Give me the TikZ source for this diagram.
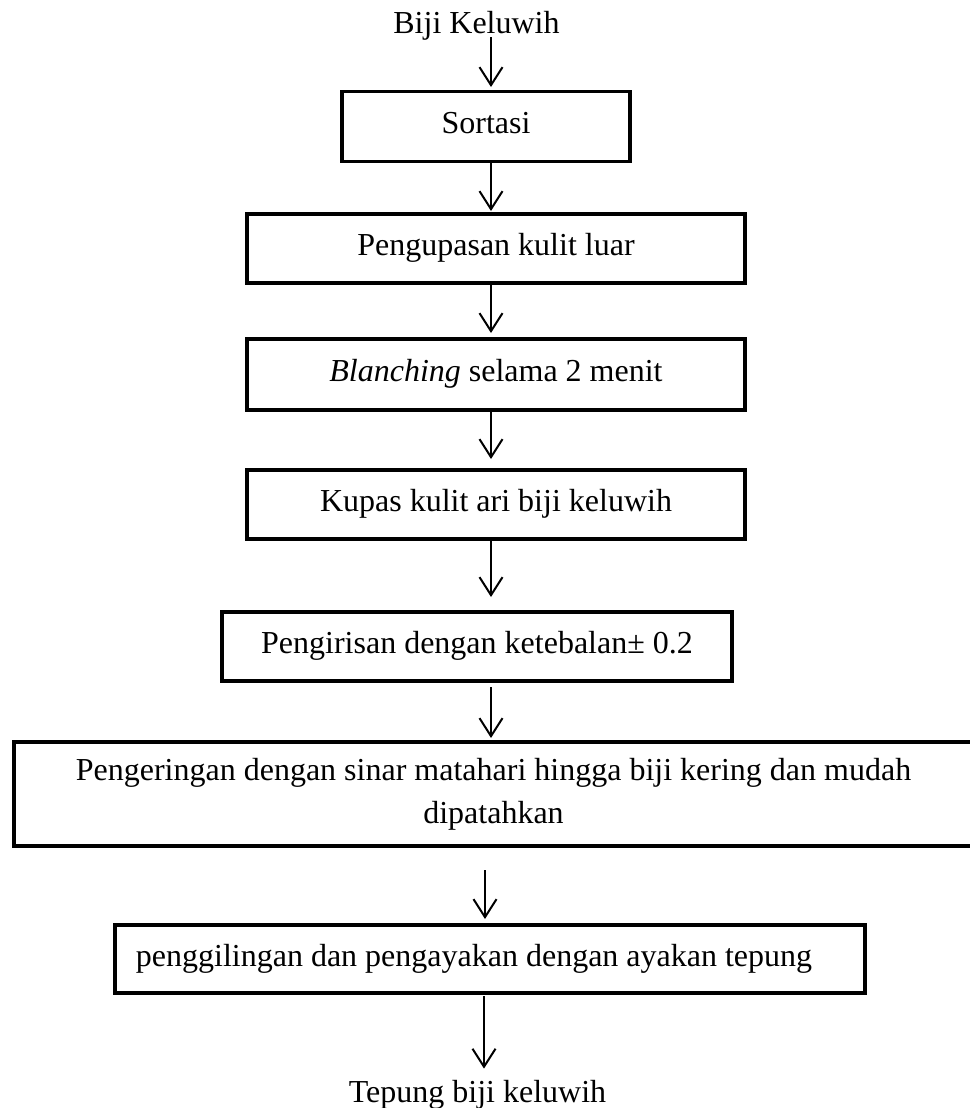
\documentclass[tikz,border=0pt]{standalone}
\usepackage{fontspec}
\setmainfont{Liberation Serif}
\usetikzlibrary{arrows.meta}
\begin{document}
\begin{tikzpicture}[x=1pt,y=-1pt,
  txt/.style={font=\fontsize{32}{43}\selectfont},
  box/.style={txt, draw, line width=3.2pt, inner sep=0pt, outer sep=0pt,
    text height=22pt, text depth=8pt},
  lbl/.style={txt, inner sep=0pt, anchor=base},
  arr/.style={line width=2pt, -{Straight Barb[length=18pt,width=23pt]}}]
\useasboundingbox (0,0) rectangle (969,1108);
\coordinate (ax) at (491,0);
\coordinate (bx) at (485,0);
\coordinate (cx) at (484,0);

\node[lbl] (biji) at (476.5,34) {Biji Keluwih};
\node[box, minimum width=288pt, minimum height=70pt] (sortasi) at (486,126.5) {Sortasi};
\node[box, minimum width=498pt, minimum height=69pt] (kulit) at (496,248.5) {Pengupasan kulit luar};
\node[box, minimum width=498pt, minimum height=71pt] (blanch) at (496,374.5) {\textit{Blanching} selama 2 menit};
\node[box, minimum width=498pt, minimum height=69pt] (kupas) at (496,504.5) {Kupas kulit ari biji keluwih};
\node[box, minimum width=510pt, minimum height=69pt] (iris) at (477,646.5) {Pengirisan dengan ketebalan± 0.2};
\node[txt, draw, line width=3.2pt, inner sep=0pt, outer sep=0pt, align=center,
  minimum width=959pt, minimum height=104pt] (kering) at (493.5,794)
  {Pengeringan dengan sinar matahari hingga biji kering dan mudah\\dipatahkan};
\node[box, minimum width=750pt, minimum height=68pt] (giling) at (490,959)
  {penggilingan dan pengayakan dengan ayakan tepung\hspace*{32pt}};
\node[lbl] (tepung) at (477.5,1102) {Tepung biji keluwih};

\draw[arr, shorten <=-4pt, shorten >=4.5pt] (biji.south -| ax) -- (sortasi.north -| ax);
\draw[arr, shorten >=3pt] (sortasi.south -| ax) -- (kulit.north -| ax);
\draw[arr, shorten >=6pt] (kulit.south -| ax) -- (blanch.north -| ax);
\draw[arr, shorten >=11pt] (blanch.south -| ax) -- (kupas.north -| ax);
\draw[arr, shorten >=15pt] (kupas.south -| ax) -- (iris.north -| ax);
\draw[arr, shorten <=6pt, shorten >=4pt] (iris.south -| ax) -- (kering.north -| ax);
\draw[arr, shorten <=24pt, shorten >=6pt] (kering.south -| bx) -- (giling.north -| bx);
\draw[arr, shorten <=3pt, shorten >=11pt] (giling.south -| cx) -- (tepung.north -| cx);
\end{tikzpicture}
\end{document}
